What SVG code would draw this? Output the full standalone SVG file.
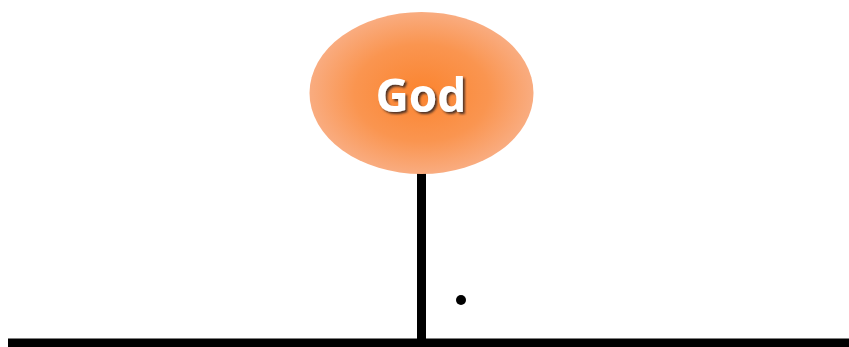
<svg xmlns="http://www.w3.org/2000/svg" width="849" height="347" viewBox="0 0 849 347">
<defs>
<radialGradient id="g" cx="50%" cy="50%" r="50%">
<stop offset="0" stop-color="#FB842F"/>
<stop offset="0.6" stop-color="#FA9550"/>
<stop offset="1" stop-color="#F9AC80"/>
</radialGradient>
<filter id="sh" x="-20%" y="-20%" width="140%" height="140%">
<feDropShadow dx="2" dy="2" stdDeviation="1" flood-color="#3a2a20" flood-opacity="0.9"/>
</filter>
</defs>
<style>
.lbl{font-family:"Open Sans","Noto Sans",sans-serif;font-weight:bold;font-size:46px;fill:#ffffff;text-anchor:middle}
.ln{stroke:#000;fill:none}
</style>
<rect width="849" height="347" fill="#fff"/>
<g id="connectors">
<line class="ln" x1="421.5" y1="172" x2="421.5" y2="347" stroke-width="9"/>
<line class="ln" x1="8" y1="343" x2="849" y2="343" stroke-width="9"/>
</g>
<g id="god">
<ellipse cx="421.5" cy="93" rx="112" ry="81" fill="url(#g)"/>
<text class="lbl" x="421" y="112" filter="url(#sh)">God</text>
</g>
<g id="dot">
<circle cx="461" cy="300" r="5" fill="#000"/>
</g>
</svg>
